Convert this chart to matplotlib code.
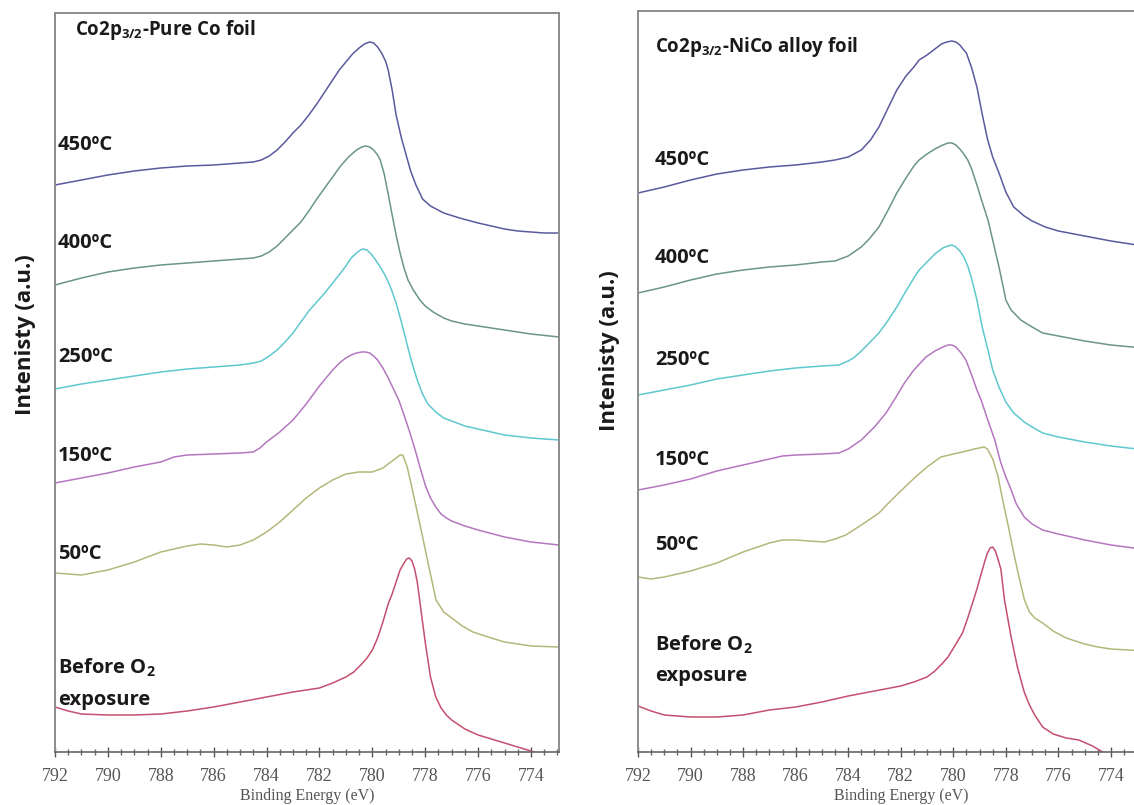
import matplotlib
matplotlib.use("Agg")
import matplotlib.pyplot as plt
from matplotlib.ticker import MultipleLocator, FixedLocator, FormatStrFormatter

# ---------------- data (binding energy eV, intensity a.u.) ----------------
temps = ["450ºC", "400ºC", "250ºC", "150ºC", "50ºC"]

pure_450 = [(792, 567), (791, 572), (790, 577), (789, 581), (788, 584), (787, 586), (786, 587),
            (785, 589), (784.5, 590), (784.2, 592), (783.9, 596), (783.6, 602), (783.3, 610),
            (783, 619), (782.7, 627), (782.4, 637), (782.1, 648), (781.8, 660), (781.5, 672),
            (781.25, 682), (781, 690), (780.75, 698), (780.5, 704), (780.3, 708), (780.1, 710),
            (779.95, 709), (779.8, 705), (779.65, 699), (779.5, 691), (779.4, 682), (779.25, 662),
            (779.1, 637), (778.9, 614), (778.7, 595), (778.55, 581), (778.35, 567), (778.1, 553),
            (777.8, 546), (777.3, 539), (776.7, 534), (776, 529), (775.5, 526), (775, 523),
            (774.5, 521), (774, 520), (773.5, 519), (772.94, 519)]
pure_400 = [(792, 467), (791, 474), (790, 480), (789, 484), (788, 487), (787, 489), (786, 491),
            (785, 493), (784.5, 494), (784.2, 496), (783.9, 500), (783.6, 506), (783.3, 514),
            (783, 522), (782.7, 530), (782.4, 541), (782.1, 553), (781.8, 564), (781.5, 575),
            (781.2, 586), (780.9, 595), (780.6, 602), (780.4, 605), (780.25, 606), (780.1, 605),
            (779.95, 602), (779.8, 597), (779.7, 592), (779.55, 578), (779.4, 558), (779.25, 537),
            (779.1, 517), (778.95, 499), (778.8, 484), (778.65, 472), (778.45, 462), (778.2, 452),
            (778, 446), (777.7, 440), (777.3, 434), (777, 431), (776.5, 428), (776, 426),
            (775, 422), (774, 418), (772.94, 415)]
pure_250 = [(792, 363), (791, 368), (790, 372), (789, 376), (788, 380), (787, 383), (786, 385),
            (785, 387), (784.5, 389), (784.2, 391), (783.9, 396), (783.6, 402), (783.3, 410),
            (783, 419), (782.7, 430), (782.4, 441), (782.1, 450), (781.8, 459), (781.5, 469),
            (781.2, 479), (781, 486), (780.8, 494), (780.6, 499), (780.45, 502), (780.35, 503),
            (780.2, 502), (780.05, 498), (779.9, 493), (779.7, 485), (779.5, 476), (779.3, 464),
            (779.1, 449), (778.9, 430), (778.7, 409), (778.5, 389), (778.3, 372), (778.1, 358),
            (777.9, 348), (777.6, 340), (777.3, 334), (777, 331), (776.5, 326), (776, 323),
            (775, 317), (774, 314), (772.94, 312)]
pure_150 = [(792, 269), (791, 274), (790, 279), (789, 285), (788, 290), (787.5, 295), (787, 297),
            (786, 298), (785, 299), (784.5, 300), (784.25, 304), (784, 310), (783.75, 315),
            (783.5, 320), (783, 332), (782.5, 348), (782, 366), (781.5, 382), (781.2, 390),
            (781, 394), (780.8, 397), (780.6, 399), (780.4, 400), (780.25, 400), (780.1, 399),
            (779.95, 396), (779.8, 392), (779.6, 384), (779.4, 374), (779.2, 363), (779, 352),
            (778.8, 337), (778.6, 321), (778.4, 304), (778.2, 285), (778, 267), (777.8, 254),
            (777.6, 245), (777.4, 238), (777.2, 234), (777, 231), (776.5, 226), (776, 222),
            (775, 215), (774, 210), (772.94, 207)]
pure_50 = [(792, 179), (791, 177), (790, 182), (789, 190), (788, 200), (787, 206), (786.5, 208),
           (786, 207), (785.5, 205), (785, 207), (784.5, 212), (784, 220), (783.5, 230), (783, 242),
           (782.5, 254), (782, 264), (781.5, 272), (781, 278), (780.5, 280), (780, 280),
           (779.6, 284), (779.3, 290), (779.1, 294), (778.95, 297), (778.85, 297), (778.68, 285),
           (778.55, 270), (778.4, 252), (778.13, 219), (777.86, 185), (777.59, 152), (777.3, 140),
           (777, 134), (776.6, 126), (776.2, 120), (775.5, 114), (775, 110), (774, 106),
           (772.94, 105)]
pure_before = [(792, 45), (791.5, 41), (791, 38), (790, 37), (789, 37), (788, 38), (787, 41),
               (786, 45), (785, 50), (784, 55), (783, 60), (782, 64), (781.5, 69), (781, 75),
               (780.7, 80), (780.4, 88), (780.2, 94), (780, 102), (779.8, 114), (779.6, 130),
               (779.4, 148), (779.25, 158), (779.1, 170), (778.95, 182), (778.8, 189), (778.7, 193),
               (778.6, 194), (778.5, 191), (778.4, 183), (778.3, 170), (778.2, 150), (778, 110),
               (777.8, 75), (777.6, 55), (777.4, 44), (777.2, 37), (777, 32), (776.5, 23),
               (776, 17), (775.5, 13), (775, 9), (774.5, 5), (774, 1), (773.5, -3), (772.94, -7)]

nico_450 = [(792, 559), (791, 565), (790, 572), (789, 578), (788, 582), (787, 585), (786, 587),
            (785, 590), (784.5, 592), (784, 595), (783.5, 602), (783.15, 612), (782.83, 625),
            (782.5, 643), (782.15, 662), (781.8, 676), (781.5, 685), (781.3, 692), (781, 697),
            (780.7, 703), (780.45, 708), (780.25, 710), (780.06, 711), (779.9, 710), (779.75, 707),
            (779.6, 702), (779.5, 699), (779.3, 684), (779.1, 665), (778.9, 638), (778.7, 613),
            (778.5, 595), (778.26, 579), (778, 560), (777.7, 545), (777.3, 536), (777, 531),
            (776.5, 525), (776, 521), (775, 516), (774, 511), (772, 503)]
nico_400 = [(792, 459), (791, 465), (790, 472), (789, 478), (788, 482), (787, 485), (786, 487),
            (785, 490), (784.5, 491), (784, 496), (783.5, 505), (783.2, 513), (782.83, 525),
            (782.5, 541), (782.15, 559), (781.8, 574), (781.5, 586), (781.3, 592), (781, 598),
            (780.7, 603), (780.4, 607), (780.2, 609), (780.05, 609), (779.9, 607), (779.75, 603),
            (779.6, 598), (779.45, 592), (779.3, 583), (779.1, 567), (778.9, 550), (778.68, 532),
            (778.5, 512), (778.26, 485), (778.1, 465), (778, 452), (777.8, 442), (777.43, 432),
            (777, 425), (776.6, 419), (776, 416), (775, 411), (774, 407), (772, 402)]
nico_250 = [(792, 357), (791, 362), (790, 367), (789, 373), (788, 377), (787, 381), (786, 384),
            (785, 386), (784.35, 387), (784, 391), (783.8, 394), (783.5, 401), (783.2, 409),
            (782.83, 419), (782.5, 431), (782.15, 445), (781.8, 461), (781.5, 474), (781.3, 482),
            (781, 490), (780.7, 498), (780.4, 504), (780.2, 506), (780.05, 507), (779.9, 505),
            (779.75, 501), (779.6, 495), (779.45, 486), (779.3, 473), (779.1, 452), (778.9, 425),
            (778.68, 402), (778.5, 382), (778.26, 365), (778, 350), (777.7, 339), (777.3, 330),
            (777, 325), (776.6, 319), (776, 315), (775, 310), (774, 306), (772, 300)]
nico_150 = [(792, 262), (791, 267), (790, 273), (789, 281), (788, 287), (787, 293), (786.5, 296),
            (786, 297), (785, 298), (784.35, 299), (784, 303), (783.5, 312), (783, 325),
            (782.56, 339), (782.2, 354), (781.86, 369), (781.5, 382), (781.04, 395), (780.7, 401),
            (780.4, 405), (780.2, 407), (780.05, 407), (779.9, 405), (779.7, 399), (779.52, 392),
            (779.3, 377), (779.1, 362), (778.94, 352), (778.7, 333), (778.42, 312), (778.2, 290),
            (778, 275), (777.84, 265), (777.6, 248), (777.3, 235), (777, 228), (776.6, 222),
            (776, 218), (775, 212), (774, 207), (772, 200)]
nico_50 = [(792, 175), (791.5, 173), (791, 175), (790, 181), (789, 189), (788, 200), (787, 209),
           (786.5, 212), (786, 212), (785.5, 211), (784.9, 210), (784.5, 213), (784.09, 217),
           (783.5, 227), (782.83, 239), (782.5, 248), (782, 261), (781.44, 275), (781, 285),
           (780.47, 295), (780, 298), (779.65, 300), (779.2, 303), (778.82, 305), (778.7, 303),
           (778.5, 293), (778.3, 276), (778.12, 252), (777.9, 225), (777.7, 199), (777.5, 175),
           (777.29, 152), (777.1, 140), (776.9, 134), (776.6, 129), (776.2, 121), (775.7, 114),
           (775, 108), (774.5, 105), (774, 103), (772, 100)]
nico_before = [(792, 46), (791.5, 41), (791, 37), (790, 35), (789, 35), (788, 37), (787, 42),
               (786, 45), (785, 50), (784, 56), (783, 61), (782, 66), (781.5, 70), (781, 75),
               (780.7, 81), (780.4, 89), (780.2, 95), (779.9, 108), (779.65, 119), (779.45, 134),
               (779.23, 152), (779.1, 163), (778.95, 177), (778.82, 189), (778.7, 199), (778.6, 204),
               (778.5, 205), (778.4, 201), (778.3, 193), (778.19, 183), (778.05, 152), (777.8, 115),
               (777.56, 85), (777.3, 60), (777.1, 47), (776.9, 37), (776.6, 25), (776.2, 18),
               (775.7, 14), (775.22, 12), (774.7, 6), (774.25, -1), (772, -20)]

x_ticks = [792, 790, 788, 786, 784, 782, 780, 778, 776, 774]

colors = ["#5a5a9e", "#6a9684", "#5ec8cf", "#b477bf", "#b5b77a", "#c44f6e"]

# ---------------- figure ----------------
plt.rcParams['mathtext.fontset'] = 'custom'
plt.rcParams['mathtext.rm'] = 'Open Sans:bold'
plt.rcParams['mathtext.it'] = 'Open Sans:bold'
plt.rcParams['mathtext.bf'] = 'Open Sans:bold'
plt.rcParams['mathtext.default'] = 'rm'

W, H = 1134, 805
fig = plt.figure(figsize=(W / 100, H / 100), dpi=100)

ax1 = fig.add_axes([55 / W, 1 - 752 / H, (559 - 55) / W, (752 - 12.5) / H])
ax2 = fig.add_axes([638 / W, 1 - 752 / H, (1164 - 638) / W, (752 - 11) / H])

panels = [
    (ax1, [pure_450, pure_400, pure_250, pure_150, pure_50, pure_before],
     "Co2p$_{3/2}$-Pure Co foil", (792, 772.94), 739.5,
     791.24, 722, 791.89, [607, 509, 395, 296, 198], (84, 52)),
    (ax2, [nico_450, nico_400, nico_250, nico_150, nico_50, nico_before],
     "Co2p$_{3/2}$-NiCo alloy foil", (792, 771.98), 741,
     791.35, 705, 791.35, [592, 494, 392, 292, 207], (107, 76)),
]

lab_font = dict(family="Open Sans", fontweight="bold", color="#1a1a1a")

for ax, curves, title, xlim, ytop, tx, ty, lx, lys, bys in panels:
    for data, col in zip(curves, colors):
        xs = [p[0] for p in data]
        ys = [p[1] for p in data]
        ax.plot(xs, ys, color=col, lw=1.1, solid_joinstyle="round")
    ax.set_xlim(*xlim)
    ax.set_ylim(0, ytop)
    ax.set_yticks([])
    ax.xaxis.set_major_locator(FixedLocator(x_ticks))
    ax.xaxis.set_minor_locator(MultipleLocator(0.5))
    ax.xaxis.set_major_formatter(FormatStrFormatter('%d'))
    ax.tick_params(axis='x', which='major', direction='inout', length=7, width=1,
                   color='#555555', labelsize=13, labelcolor='#555555', pad=8)
    ax.tick_params(axis='x', which='minor', direction='inout', length=4, width=1,
                   color='#666666')
    for lbl in ax.get_xticklabels():
        lbl.set_family("Liberation Serif")
    for s in ['top', 'right', 'left']:
        ax.spines[s].set_color('#8c8c8c')
        ax.spines[s].set_linewidth(1.4)
    ax.spines['bottom'].set_color('#666666')
    ax.spines['bottom'].set_linewidth(1.2)
    ax.set_xlabel("Binding Energy (eV)", family="Liberation Serif", fontsize=11.5,
                  color="#555555", labelpad=2)

    ax.text(tx, ty, title, fontsize=13.5, va='center', ha='left', **lab_font)
    for t, yv in zip(temps, lys):
        ax.text(lx, yv, t, fontsize=14.5, va='center', ha='left', **lab_font)
    ax.text(lx, bys[0], "Before O$_2$", fontsize=14.5, va='center', ha='left', **lab_font)
    ax.text(lx, bys[1], "exposure", fontsize=14.5, va='center', ha='left', **lab_font)

fig.text(26 / W, 1 - 335 / H, "Intenisty (a.u.)", rotation=90, va='center', ha='center',
         fontsize=16, **lab_font)
fig.text(610 / W, 1 - 351 / H, "Intenisty (a.u.)", rotation=90, va='center', ha='center',
         fontsize=16, **lab_font)

fig.savefig("out.png", dpi=100)
